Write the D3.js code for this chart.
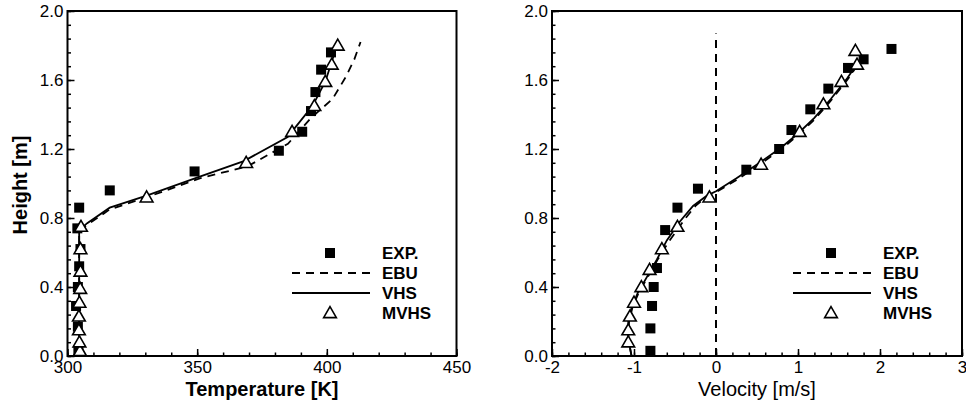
<!DOCTYPE html>
<html>
<head>
<meta charset="utf-8">
<script src="https://cdn.jsdelivr.net/npm/d3@7"></script>
<style>
  html, body { margin: 0; padding: 0; background: #fff; }
  svg { display: block; font-family: "Liberation Sans", Arial, sans-serif; }
</style>
</head>
<body>
<svg id="chart" width="966" height="407"></svg>
<script>
// ---- data: left panel (Temperature [K] vs Height [m]) ----
const tempExp = [
  [304.2, 0.03], [304.0, 0.17], [303.3, 0.29], [304.0, 0.40], [304.5, 0.52],
  [305.0, 0.62], [303.8, 0.74], [304.5, 0.86], [316.3, 0.96], [349.0, 1.07],
  [381.5, 1.19], [390.5, 1.30], [393.9, 1.42], [395.6, 1.53], [397.8, 1.66],
  [401.6, 1.76]
];
const tempMvhs = [
  [304.8, 0.03], [304.6, 0.08], [304.4, 0.15], [304.4, 0.23], [304.6, 0.31],
  [304.9, 0.39], [305.0, 0.49], [305.0, 0.62], [305.2, 0.75], [330.5, 0.92],
  [368.9, 1.12], [386.6, 1.30], [395.2, 1.45], [399.4, 1.59], [401.9, 1.69],
  [404.2, 1.80]
];
const tempVhs = [
  [304.5, 0.0], [304.5, 0.73], [307.6, 0.77], [316.3, 0.86], [330.5, 0.93],
  [351.0, 1.04], [368.0, 1.13], [384.9, 1.27], [394.5, 1.45], [399.4, 1.59],
  [402.2, 1.72], [403.6, 1.79]
];
const tempEbu = [
  [304.5, 0.0], [304.5, 0.73], [307.6, 0.76], [316.3, 0.85], [330.5, 0.92],
  [351.0, 1.03], [369.5, 1.10], [385.0, 1.23], [393.9, 1.38], [402.2, 1.49],
  [407.4, 1.62], [410.6, 1.72], [413.0, 1.82]
];

// ---- data: right panel (Velocity [m/s] vs Height [m]) ----
const velExp = [
  [-0.80, 0.03], [-0.80, 0.16], [-0.78, 0.29], [-0.76, 0.40], [-0.72, 0.51],
  [-0.62, 0.73], [-0.47, 0.86], [-0.22, 0.97], [0.37, 1.08], [0.77, 1.20],
  [0.92, 1.31], [1.15, 1.43], [1.37, 1.55], [1.61, 1.67], [1.80, 1.72],
  [2.14, 1.78]
];
const velMvhs = [
  [-1.07, 0.08], [-1.07, 0.15], [-1.05, 0.23], [-1.00, 0.31], [-0.91, 0.40],
  [-0.81, 0.50], [-0.66, 0.62], [-0.47, 0.75], [-0.08, 0.92], [0.55, 1.11],
  [1.02, 1.30], [1.31, 1.46], [1.53, 1.59], [1.72, 1.69], [1.70, 1.77]
];
const velVhs = [
  [-1.03, 0.0], [-1.07, 0.10], [-1.07, 0.20], [-1.03, 0.28], [-0.95, 0.37],
  [-0.84, 0.46], [-0.72, 0.56], [-0.60, 0.67], [-0.44, 0.78], [-0.28, 0.87],
  [-0.11, 0.93], [0.0, 0.955], [0.25, 1.03], [0.50, 1.11], [0.80, 1.21],
  [1.00, 1.29], [1.20, 1.38], [1.40, 1.49], [1.60, 1.61], [1.76, 1.72]
];
const velEbu = [
  [-1.03, 0.0], [-1.07, 0.10], [-1.06, 0.20], [-1.02, 0.28], [-0.94, 0.37],
  [-0.83, 0.46], [-0.71, 0.56], [-0.58, 0.66], [-0.37, 0.80], [-0.25, 0.87],
  [-0.10, 0.93], [0.0, 0.95], [0.25, 1.02], [0.50, 1.10], [0.80, 1.20],
  [1.00, 1.28], [1.20, 1.37], [1.40, 1.48], [1.60, 1.60], [1.76, 1.71]
];
const velZero = [[0, 0.0], [0, 1.87]];

const yTicks = [0.0, 0.4, 0.8, 1.2, 1.6, 2.0];
const tempTicks = [300, 350, 400, 450];
const velTicks = [-2, -1, 0, 1, 2, 3];
const legendLabels = ["EXP.", "EBU", "VHS", "MVHS"];

const svg = d3.select("#chart");

function drawPanel(opt) {
  const g = svg.append("g");
  const x = d3.scaleLinear().domain(opt.xDomain).range([opt.left, opt.right]);
  const y = d3.scaleLinear().domain([0, 2]).range([356, 11]);

  // minor ticks
  g.append("g").attr("transform", "translate(0,356)")
    .call(d3.axisBottom(x).tickValues(d3.range(opt.xDomain[0], opt.xDomain[1] + 1e-9, opt.xMinor))
      .tickSize(-3.5).tickFormat(""))
    .call(a => a.select(".domain").remove());
  g.append("g").attr("transform", `translate(${opt.left},0)`)
    .call(d3.axisLeft(y).tickValues(d3.range(0, 2.0001, 0.08)).tickSize(-3.5).tickFormat(""))
    .call(a => a.select(".domain").remove());

  // major ticks + labels
  const ax = g.append("g").attr("transform", "translate(0,356)")
    .call(d3.axisBottom(x).tickValues(opt.xTicks).tickSize(-7).tickPadding(5).tickFormat(d => String(d)));
  ax.select(".domain").remove();
  ax.selectAll("text").attr("font-size", 17).attr("font-family", "Liberation Sans, Arial");
  const ay = g.append("g").attr("transform", `translate(${opt.left},0)`)
    .call(d3.axisLeft(y).tickValues(yTicks).tickSize(-7).tickPadding(4).tickFormat(d3.format(".1f")));
  ay.select(".domain").remove();
  ay.selectAll("text").attr("font-size", 17).attr("font-family", "Liberation Sans, Arial");
  g.selectAll(".tick line").attr("stroke", "#000").attr("stroke-width", 1.5);

  // frame
  g.append("rect").attr("x", opt.left).attr("y", 11)
    .attr("width", opt.right - opt.left).attr("height", 345)
    .attr("fill", "none").attr("stroke", "#000").attr("stroke-width", 2);

  const line = d3.line().x(d => x(d[0])).y(d => y(d[1]));
  if (opt.zero) {
    g.append("path").attr("d", line(opt.zero)).attr("fill", "none")
      .attr("stroke", "#000").attr("stroke-width", 2).attr("stroke-dasharray", "8,6");
  }
  g.append("path").attr("d", line(opt.ebu)).attr("fill", "none")
    .attr("stroke", "#000").attr("stroke-width", 1.8).attr("stroke-dasharray", "8,6");
  g.append("path").attr("d", line(opt.vhs)).attr("fill", "none")
    .attr("stroke", "#000").attr("stroke-width", 1.8);

  g.selectAll(".sq").data(opt.exp).enter().append("rect")
    .attr("x", d => x(d[0]) - 5).attr("y", d => y(d[1]) - 5)
    .attr("width", 10).attr("height", 10).attr("fill", "#000");

  const tri = d3.symbol().type(d3.symbolTriangle).size(70);
  g.selectAll(".tri").data(opt.mvhs).enter().append("path")
    .attr("d", tri).attr("transform", d => `translate(${x(d[0])},${y(d[1]) + 1})`)
    .attr("fill", "#fff").attr("stroke", "#000").attr("stroke-width", 1.6);

  // legend
  const lx = opt.legX, ly = 253;
  const lg = g.append("g").attr("transform", `translate(${lx},${ly})`);
  lg.append("rect").attr("x", 33).attr("y", -5).attr("width", 10).attr("height", 10).attr("fill", "#000");
  lg.append("line").attr("x1", 0).attr("x2", 78).attr("y1", 20).attr("y2", 20)
    .attr("stroke", "#000").attr("stroke-width", 1.8).attr("stroke-dasharray", "8,6");
  lg.append("line").attr("x1", 0).attr("x2", 78).attr("y1", 40).attr("y2", 40)
    .attr("stroke", "#000").attr("stroke-width", 1.8);
  lg.append("path").attr("d", tri).attr("transform", "translate(38,61)")
    .attr("fill", "#fff").attr("stroke", "#000").attr("stroke-width", 1.6);
  lg.selectAll("text").data(legendLabels).enter().append("text")
    .attr("x", 90).attr("y", (d, i) => i * 20 + 6)
    .attr("font-size", 17).attr("font-weight", "bold").text(d => d);

  // axis title
  svg.append("text").attr("x", (opt.left + opt.right) / 2).attr("y", 396)
    .attr("text-anchor", "middle").attr("font-size", 20)
    .attr("font-weight", opt.titleBold ? "bold" : "normal").text(opt.title);
}

drawPanel({
  xDomain: [300, 450], xTicks: tempTicks, xMinor: 10, left: 67.5, right: 456.5,
  exp: tempExp, mvhs: tempMvhs, vhs: tempVhs, ebu: tempEbu,
  legX: 292, title: "Temperature [K]", titleBold: true
});
drawPanel({
  xDomain: [-2, 3], xTicks: velTicks, xMinor: 0.2, left: 552, right: 962,
  exp: velExp, mvhs: velMvhs, vhs: velVhs, ebu: velEbu, zero: velZero,
  legX: 793, title: "Velocity [m/s]", titleBold: false
});

svg.append("text").attr("transform", "translate(27,185) rotate(-90)")
  .attr("text-anchor", "middle").attr("font-size", 20).attr("font-weight", "bold")
  .text("Height [m]");
</script>
</body>
</html>
